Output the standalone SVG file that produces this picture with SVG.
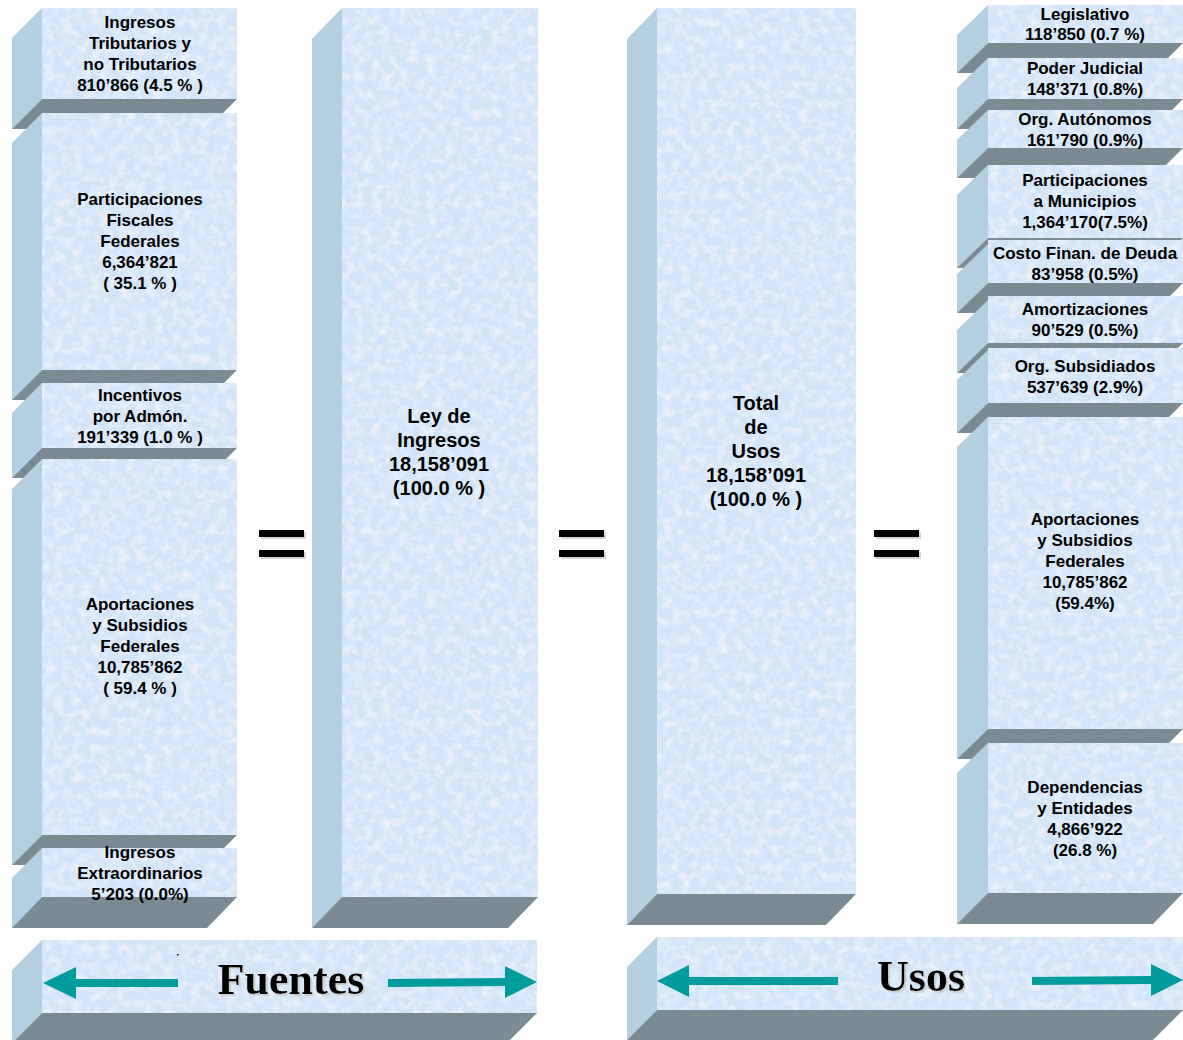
<svg xmlns="http://www.w3.org/2000/svg" width="1183" height="1040" viewBox="0 0 1183 1040">
<defs>
<filter id="tex" x="0" y="0" width="100%" height="100%" color-interpolation-filters="sRGB">
<feTurbulence type="fractalNoise" baseFrequency="0.11" numOctaves="4" seed="7" result="n"/>
<feColorMatrix in="n" type="matrix" values="0 0 0 0 1  0 0 0 0 1  0 0 0 0 1  1.3 0 0 0 -0.5" result="w"/>
<feComposite in="w" in2="SourceGraphic" operator="in" result="wc"/>
<feMerge><feMergeNode in="SourceGraphic"/><feMergeNode in="wc"/></feMerge>
</filter>
<filter id="shd" x="-10%" y="-10%" width="130%" height="140%">
<feOffset in="SourceAlpha" dx="2" dy="2" result="o"/>
<feColorMatrix in="o" type="matrix" values="0 0 0 0 0.6  0 0 0 0 0.6  0 0 0 0 0.6  0 0 0 0.8 0" result="g"/>
<feMerge><feMergeNode in="g"/><feMergeNode in="SourceGraphic"/></feMerge>
</filter>
</defs>
<style>
.front{fill:#d2e4f8;filter:url(#tex)}
.side{fill:#b4cfdf}
.bot{fill:#7a8b93}
.t{font-family:"Liberation Sans",Arial,sans-serif;font-weight:bold;font-size:17px;fill:#000;text-anchor:middle}
.tb{font-family:"Liberation Sans",Arial,sans-serif;font-weight:bold;font-size:20px;fill:#000;text-anchor:middle}
.big{font-family:"Liberation Serif","Times New Roman",serif;font-weight:bold;font-size:44px;fill:#000;text-anchor:middle;filter:url(#shd)}
.eq{fill:#000;filter:url(#shd)}
.arr{fill:#009b9b}
</style>

<!-- Left column -->
<g id="ingresos-tributarios">
<polygon class="side" points="42,8 42,99 12,129 12,38"/>
<rect class="front" x="42" y="8" width="195" height="91"/>
<polygon class="bot" points="42,99 237,99 207,129 12,129"/>
<text class="t" x="140" y="28">Ingresos</text>
<text class="t" x="140" y="49">Tributarios y</text>
<text class="t" x="140" y="70">no Tributarios</text>
<text class="t" x="140" y="91">810’866 (4.5 % )</text>
</g>
<g id="participaciones-fiscales">
<polygon class="side" points="42,113 42,370 12,400 12,143"/>
<rect class="front" x="42" y="113" width="195" height="257"/>
<polygon class="bot" points="42,370 237,370 207,400 12,400"/>
<text class="t" x="140" y="205">Participaciones</text>
<text class="t" x="140" y="226">Fiscales</text>
<text class="t" x="140" y="247">Federales</text>
<text class="t" x="140" y="268">6,364’821</text>
<text class="t" x="140" y="289">( 35.1 % )</text>
</g>
<g id="incentivos">
<polygon class="side" points="42,383 42,448 12,478 12,413"/>
<rect class="front" x="42" y="383" width="195" height="65"/>
<polygon class="bot" points="42,448 237,448 207,478 12,478"/>
<text class="t" x="140" y="401">Incentivos</text>
<text class="t" x="140" y="422">por Admón.</text>
<text class="t" x="140" y="443">191’339 (1.0 % )</text>
</g>
<g id="aportaciones-fuentes">
<polygon class="side" points="42,459 42,835 12,865 12,489"/>
<rect class="front" x="42" y="459" width="195" height="376"/>
<polygon class="bot" points="42,835 237,835 207,865 12,865"/>
<text class="t" x="140" y="610">Aportaciones</text>
<text class="t" x="140" y="631">y Subsidios</text>
<text class="t" x="140" y="652">Federales</text>
<text class="t" x="140" y="673">10,785’862</text>
<text class="t" x="140" y="694">( 59.4 % )</text>
</g>
<g id="ingresos-extraordinarios">
<polygon class="side" points="42,848 42,897 12,928 12,878"/>
<rect class="front" x="42" y="848" width="195" height="49"/>
<polygon class="bot" points="42,897 237,897 207,928 12,928"/>
<text class="t" x="140" y="858">Ingresos</text>
<text class="t" x="140" y="879">Extraordinarios</text>
<text class="t" x="140" y="900">5’203 (0.0%)</text>
</g>

<!-- Middle boxes -->
<g id="ley-de-ingresos">
<polygon class="side" points="342,8 342,897 312,928 312,39"/>
<rect class="front" x="342" y="8" width="196" height="889"/>
<polygon class="bot" points="342,897 538,897 508,928 312,928"/>
<text class="tb" x="439" y="423">Ley de</text>
<text class="tb" x="439" y="447">Ingresos</text>
<text class="tb" x="439" y="471">18,158’091</text>
<text class="tb" x="439" y="495">(100.0 % )</text>
</g>
<g id="total-de-usos">
<polygon class="side" points="657,8 657,894 627,925 627,39"/>
<rect class="front" x="657" y="8" width="199" height="886"/>
<polygon class="bot" points="657,894 856,894 826,925 627,925"/>
<text class="tb" x="756" y="410">Total</text>
<text class="tb" x="756" y="434">de</text>
<text class="tb" x="756" y="458">Usos</text>
<text class="tb" x="756" y="482">18,158’091</text>
<text class="tb" x="756" y="506">(100.0 % )</text>
</g>

<!-- Right column -->
<g id="legislativo">
<polygon class="side" points="988,5 988,43 957,73 957,35"/>
<rect class="front" x="988" y="5" width="195" height="38"/>
<polygon class="bot" points="988,43 1183,43 1153,73 957,73"/>
<text class="t" x="1085" y="20">Legislativo</text>
<text class="t" x="1085" y="40">118’850 (0.7 %)</text>
</g>
<g id="poder-judicial">
<polygon class="side" points="988,58 988,99 957,129 957,88"/>
<rect class="front" x="988" y="58" width="195" height="41"/>
<polygon class="bot" points="988,99 1183,99 1153,129 957,129"/>
<text class="t" x="1085" y="74">Poder Judicial</text>
<text class="t" x="1085" y="95">148’371 (0.8%)</text>
</g>
<g id="org-autonomos">
<polygon class="side" points="988,110 988,148 957,178 957,140"/>
<rect class="front" x="988" y="110" width="195" height="38"/>
<polygon class="bot" points="988,148 1183,148 1153,178 957,178"/>
<text class="t" x="1085" y="125">Org. Autónomos</text>
<text class="t" x="1085" y="146">161’790 (0.9%)</text>
</g>
<g id="participaciones-municipios">
<polygon class="side" points="988,165 988,238 957,268 957,195"/>
<rect class="front" x="988" y="165" width="195" height="73"/>
<polygon class="bot" points="988,238 1183,238 1153,268 957,268"/>
<text class="t" x="1085" y="186">Participaciones</text>
<text class="t" x="1085" y="207">a Municipios</text>
<text class="t" x="1085" y="228">1,364’170(7.5%)</text>
</g>
<g id="costo-financiero">
<polygon class="side" points="988,244 988,283 957,313 957,274"/>
<rect class="front" x="988" y="240" width="195" height="43"/>
<polygon class="bot" points="988,283 1183,283 1153,313 957,313"/>
<text class="t" x="1085" y="259">Costo Finan. de Deuda</text>
<text class="t" x="1085" y="280">83’958 (0.5%)</text>
</g>
<g id="amortizaciones">
<polygon class="side" points="988,300 988,343 957,373 957,330"/>
<rect class="front" x="988" y="296" width="195" height="47"/>
<polygon class="bot" points="988,343 1183,343 1153,373 957,373"/>
<text class="t" x="1085" y="315">Amortizaciones</text>
<text class="t" x="1085" y="336">90’529 (0.5%)</text>
</g>
<g id="org-subsidiados">
<polygon class="side" points="988,350 988,403 957,433 957,380"/>
<rect class="front" x="988" y="348" width="195" height="55"/>
<polygon class="bot" points="988,403 1183,403 1153,433 957,433"/>
<text class="t" x="1085" y="372">Org. Subsidiados</text>
<text class="t" x="1085" y="393">537’639 (2.9%)</text>
</g>
<g id="aportaciones-usos">
<polygon class="side" points="988,417 988,729 957,759 957,447"/>
<rect class="front" x="988" y="417" width="195" height="312"/>
<polygon class="bot" points="988,729 1183,729 1153,759 957,759"/>
<text class="t" x="1085" y="525">Aportaciones</text>
<text class="t" x="1085" y="546">y Subsidios</text>
<text class="t" x="1085" y="567">Federales</text>
<text class="t" x="1085" y="588">10,785’862</text>
<text class="t" x="1085" y="609">(59.4%)</text>
</g>
<g id="dependencias">
<polygon class="side" points="988,743 988,893 957,924 957,773"/>
<rect class="front" x="988" y="743" width="195" height="150"/>
<polygon class="bot" points="988,893 1183,893 1153,924 957,924"/>
<text class="t" x="1085" y="793">Dependencias</text>
<text class="t" x="1085" y="814">y Entidades</text>
<text class="t" x="1085" y="835">4,866’922</text>
<text class="t" x="1085" y="856">(26.8 %)</text>
</g>

<!-- Equals signs -->
<g id="equals">
<rect class="eq" x="259" y="530" width="45" height="7"/>
<rect class="eq" x="259" y="550" width="45" height="7"/>
<rect class="eq" x="559" y="530" width="45" height="7"/>
<rect class="eq" x="559" y="550" width="45" height="7"/>
<rect class="eq" x="874" y="530" width="45" height="7"/>
<rect class="eq" x="874" y="550" width="45" height="7"/>
</g>

<!-- Bottom bars -->
<g id="fuentes">
<polygon class="side" points="42,940 42,1013 12,1043 12,970"/>
<rect class="front" x="42" y="940" width="495" height="73"/>
<polygon class="bot" points="42,1013 537,1013 507,1043 12,1043"/>
<rect x="177" y="954" width="1.5" height="1.5" fill="#000"/>
<text class="big" x="291" y="994">Fuentes</text>
</g>
<g id="usos">
<polygon class="side" points="657,937 657,1010 627,1040 627,967"/>
<rect class="front" x="657" y="937" width="526" height="73"/>
<polygon class="bot" points="657,1010 1183,1010 1153,1040 627,1040"/>
<text class="big" x="921" y="991">Usos</text>
</g>

<!-- Connectors (arrows) -->
<g id="connectors">
<polygon class="arr" points="43,983 76,967 76,979 178,979 178,987 76,987 76,999"/>
<polygon class="arr" points="537,982 505,966 505,978 388,979 388,987 505,986 505,998"/>
<polygon class="arr" points="657,981 689,965 689,977 838,977 838,985 689,985 689,997"/>
<polygon class="arr" points="1183,980 1151,964 1151,976 1032,977 1032,985 1151,984 1151,996"/>
</g>
</svg>
